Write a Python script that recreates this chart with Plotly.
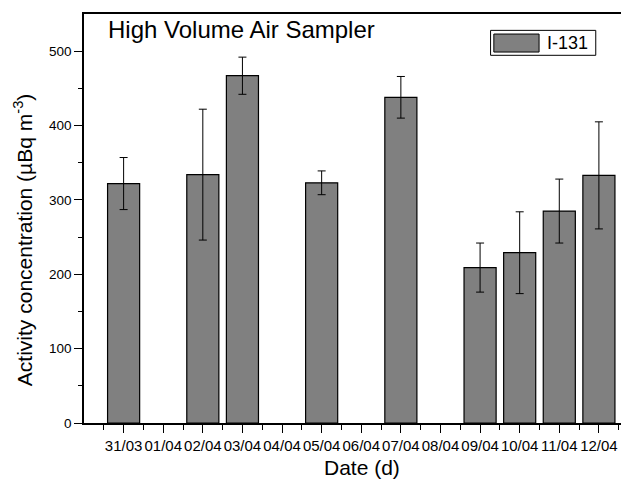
import plotly.graph_objects as go

dates = ["31/03", "01/04", "02/04", "03/04", "04/04", "05/04", "06/04",
         "07/04", "08/04", "09/04", "10/04", "11/04", "12/04"]
i131 = [322, None, 334, 467, None, 323, None, 438, None, 209, 229, 285, 333]
i131_err = [35, None, 88, 25, None, 16, None, 28, None, 33, 55, 43, 72]
y_ticks = [0, 100, 200, 300, 400, 500]

xpos = list(range(len(dates)))
FONT = "Liberation Sans, Arial, Helvetica, sans-serif"

fig = go.Figure()
fig.add_trace(go.Bar(
    x=xpos, y=i131, name="I-131", width=0.81,
    marker=dict(color="#808080", line=dict(color="black", width=1.2)),
    error_y=dict(type="data", array=i131_err, visible=True,
                 color="black", thickness=1, width=4),
    showlegend=False,
))

# page body has an 8px margin: figure is sized/offset to compensate
fig.update_layout(
    width=621, height=474,
    margin=dict(l=76, r=0, t=6, b=59),
    plot_bgcolor="white", paper_bgcolor="white",
    font=dict(family=FONT, color="black"),
    xaxis=dict(
        range=[-1, 12.76], tickmode="array", tickvals=xpos, ticktext=dates,
        ticks="outside", ticklen=8, tickwidth=1.3, tickcolor="black",
        showline=True, linecolor="black", linewidth=1.5, mirror=True,
        showgrid=False, zeroline=False,
        tickfont=dict(size=15),
        minor=dict(tickvals=[v - 0.5 for v in xpos] + [12.5], ticks="outside",
                   ticklen=5, tickwidth=1.3, tickcolor="black"),
    ),
    yaxis=dict(
        range=[0, 550], tickmode="array", tickvals=y_ticks,
        ticks="outside", ticklen=8, tickwidth=1.3, tickcolor="black",
        showline=True, linecolor="black", linewidth=1.5,
        showgrid=False, zeroline=False,
        tickfont=dict(size=13.5),
        minor=dict(tickvals=[50, 150, 250, 350, 450], ticks="outside",
                   ticklen=4, tickwidth=1.3, tickcolor="black"),
    ),
    annotations=[
        dict(text="High Volume Air Sampler", xref="paper", yref="paper",
             x=0.04, y=1.0, xanchor="left", yanchor="top", showarrow=False,
             font=dict(size=24)),
        dict(text="I-131", xref="paper", yref="paper",
             x=0.846, y=0.930, xanchor="left", yanchor="middle", showarrow=False,
             font=dict(size=18)),
        dict(text="Activity concentration (µBq m<sup>-3</sup>)", xref="paper",
             yref="paper", x=-0.112, y=0.447, xanchor="center", yanchor="middle",
             textangle=-90, showarrow=False, font=dict(size=21)),
        dict(text="Date (d)", xref="paper", yref="paper",
             x=0.51, y=-0.108, xanchor="center", yanchor="middle",
             showarrow=False, font=dict(size=21)),
    ],
    shapes=[
        dict(type="rect", xref="paper", yref="paper",
             x0=0.746, x1=0.939, y0=0.899, y1=0.96,
             line=dict(color="black", width=1), fillcolor="white", layer="above"),
        dict(type="rect", xref="paper", yref="paper",
             x0=0.752, x1=0.835, y0=0.907, y1=0.951,
             line=dict(color="black", width=1), fillcolor="#808080", layer="above"),
    ],
)

fig.write_html("out.html")
